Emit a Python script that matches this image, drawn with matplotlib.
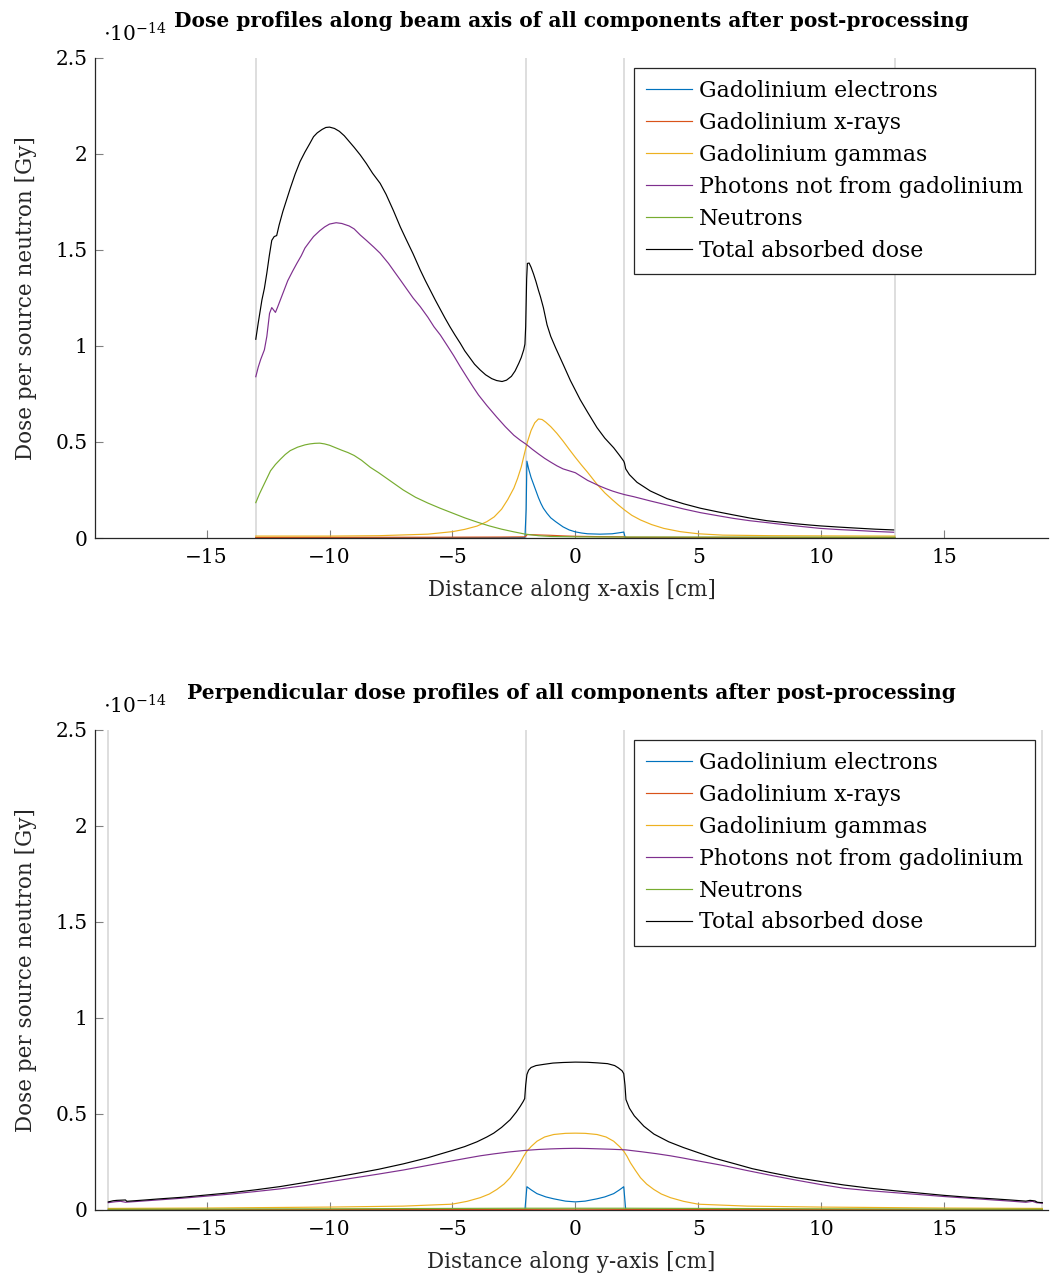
#!/usr/bin/env python3

import matplotlib
matplotlib.use("Agg")
import matplotlib.pyplot as plt

import matplotlib as mpl
mpl.rcParams['font.family'] = 'DejaVu Serif'
mpl.rcParams['mathtext.fontset'] = 'dejavuserif'

# dose values in units of 1e-14 Gy per source neutron

# --- profile along beam axis (x) ---
ELEC_X_TOP = [-13, -2.05, -2.0, -1.97, -1.9, -1.8, -1.7, -1.6, -1.5, -1.4, -1.3, -1.15, -1.0, -0.8, -0.5, -0.25, 0,
              0.25, 0.5, 1.0, 1.5, 1.83, 1.97, 2.03, 13]
ELEC_Y_TOP = [0.001, 0.002, 0.15, 0.40, 0.36, 0.315, 0.28, 0.245, 0.21, 0.18, 0.155, 0.128, 0.105, 0.085, 0.058, 0.042, 0.032,
              0.026, 0.022, 0.02, 0.022, 0.028, 0.031, 0.002, 0.001]

XRAY_X_TOP = [-13, -6, -3, -2.05, -1.95, -1.5, -1.0, -0.5, 0, 1, 2, 2.1, 5, 13]
XRAY_Y_TOP = [0.003, 0.004, 0.005, 0.006, 0.018, 0.016, 0.014, 0.011, 0.009, 0.007, 0.006, 0.004, 0.003, 0.002]

GAMMA_X_TOP = [-13, -10, -8, -6, -5, -4.5, -4, -3.6, -3.3, -3.0, -2.75, -2.5, -2.35, -2.2, -2.05, -1.95, -1.8, -1.65, -1.5,
               -1.35, -1.2, -1.0, -0.75, -0.5, -0.25, 0, 0.25, 0.5, 0.88, 1.2, 1.5, 1.75, 2.0, 2.3, 2.65, 3.1, 3.6, 4.27,
               5, 6, 8, 10, 13]
GAMMA_Y_TOP = [0.01, 0.01, 0.012, 0.02, 0.033, 0.045, 0.062, 0.085, 0.11, 0.15, 0.2, 0.26, 0.31, 0.37, 0.45, 0.5, 0.56, 0.6, 0.62,
               0.617, 0.603, 0.58, 0.545, 0.505, 0.462, 0.42, 0.38, 0.342, 0.28, 0.235, 0.2, 0.172, 0.146, 0.118, 0.094, 0.07, 0.05, 0.033,
               0.022, 0.015, 0.012, 0.011, 0.01]

PHOT_X_TOP = [-13, -12.9, -12.8, -12.65, -12.55, -12.44, -12.35, -12.2, -12.12, -12.0, -11.85, -11.7, -11.5, -11.33, -11.15,
              -11.0, -10.8, -10.65, -10.4, -10.2, -10.0, -9.73, -9.5, -9.2, -9.0, -8.75, -8.5, -8.2, -7.94, -7.6, -7.35,
              -7.12, -6.85, -6.6, -6.31, -6.0, -5.75, -5.49, -5.2, -4.95, -4.68, -4.4, -4.15, -3.94, -3.6, -3.2, -2.85,
              -2.5, -2.25, -2.0, -1.75, -1.5, -1.25, -1.0, -0.75, -0.5, -0.25, 0, 0.25, 0.5, 0.75, 1.0, 1.25, 1.5, 1.75,
              2.0, 2.38, 3.05, 3.73, 4.41, 5.09, 5.8, 6.44, 7.1, 7.8, 8.4, 8.9, 9.5, 9.97, 10.7, 11.5, 12.2, 12.95]
PHOT_Y_TOP = [0.84, 0.89, 0.93, 0.98, 1.05, 1.17, 1.20, 1.175, 1.20, 1.24, 1.29, 1.34, 1.39, 1.43, 1.47,
              1.51, 1.545, 1.57, 1.60, 1.62, 1.635, 1.642, 1.638, 1.625, 1.61, 1.578, 1.55, 1.515, 1.483, 1.43, 1.385,
              1.344, 1.295, 1.25, 1.205, 1.15, 1.10, 1.057, 1.00, 0.95, 0.892, 0.835, 0.785, 0.745, 0.69, 0.63, 0.58,
              0.535, 0.51, 0.488, 0.462, 0.438, 0.415, 0.395, 0.376, 0.36, 0.35, 0.34, 0.32, 0.30, 0.285, 0.27, 0.257, 0.245, 0.235,
              0.226, 0.215, 0.193, 0.172, 0.151, 0.132, 0.116, 0.102, 0.09, 0.08, 0.071, 0.064, 0.056, 0.05, 0.044, 0.039, 0.034, 0.03]

NEUT_X_TOP = [-13, -12.85, -12.7, -12.55, -12.4, -12.2, -12, -11.8, -11.6, -11.3, -11, -10.8, -10.6, -10.4, -10.2, -10.0,
              -9.75, -9.5, -9.25, -9, -8.7, -8.34, -8.0, -7.5, -7.0, -6.5, -6.0, -5.5, -5, -4.5, -4.0, -3.5, -3.0, -2.5,
              -2.03, -1.5, -1, 0, 2, 5, 13]
NEUT_Y_TOP = [0.184, 0.23, 0.27, 0.31, 0.35, 0.383, 0.41, 0.435, 0.455, 0.473, 0.485, 0.49, 0.493, 0.494, 0.49, 0.483,
              0.47, 0.457, 0.445, 0.43, 0.405, 0.368, 0.34, 0.295, 0.25, 0.212, 0.182, 0.155, 0.13, 0.105, 0.083, 0.063, 0.046, 0.032,
              0.02, 0.012, 0.008, 0.006, 0.005, 0.005, 0.004]

TOTAL_X_TOP = [-13, -12.9, -12.75, -12.65, -12.55, -12.45, -12.35, -12.25, -12.15, -12.05, -11.9, -11.75, -11.6, -11.4,
               -11.2, -11.0, -10.8, -10.65, -10.5, -10.3, -10.15, -10.0, -9.8, -9.6, -9.4, -9.2, -9.0, -8.75, -8.5, -8.25,
               -7.94, -7.7, -7.4, -7.12, -6.9, -6.6, -6.31, -6.1, -5.9, -5.7, -5.49, -5.3, -5.1, -4.9, -4.68, -4.5, -4.3,
               -4.1, -3.87, -3.65, -3.4, -3.2, -2.98, -2.8, -2.6, -2.45, -2.3, -2.2, -2.1, -2.05, -2.02, -1.98, -1.95,
               -1.88, -1.8, -1.7, -1.6, -1.5, -1.42, -1.3, -1.15, -1.0, -0.8, -0.48, -0.2, 0.2, 0.5, 0.88, 1.2, 1.56, 1.8,
               1.97, 2.0, 2.05, 2.2, 2.51, 3.05, 3.73, 4.41, 5.09, 5.8, 6.44, 7.1, 7.8, 8.4, 8.9, 9.5, 9.97, 10.7, 11.5,
               12.2, 12.95]
TOTAL_Y_TOP = [1.035, 1.12, 1.24, 1.30, 1.38, 1.47, 1.55, 1.57, 1.575, 1.63, 1.70, 1.76, 1.82, 1.895,
               1.96, 2.01, 2.055, 2.09, 2.11, 2.128, 2.138, 2.14, 2.133, 2.118, 2.095, 2.065, 2.035, 1.995, 1.95, 1.90,
               1.847, 1.79, 1.705, 1.62, 1.56, 1.48, 1.396, 1.34, 1.29, 1.24, 1.19, 1.145, 1.10, 1.058, 1.014, 0.975, 0.94,
               0.905, 0.875, 0.85, 0.83, 0.82, 0.815, 0.822, 0.842, 0.87, 0.91, 0.94, 0.98, 1.01, 1.1, 1.35, 1.43,
               1.432, 1.41, 1.375, 1.335, 1.29, 1.257, 1.20, 1.11, 1.05, 0.99, 0.90, 0.82, 0.72, 0.655, 0.575, 0.52, 0.47, 0.43,
               0.40, 0.39, 0.36, 0.33, 0.29, 0.245, 0.205, 0.178, 0.155, 0.136, 0.12, 0.104, 0.09, 0.082, 0.075, 0.068, 0.063, 0.057, 0.051,
               0.046, 0.042]

# --- perpendicular profile (y) ---
ELEC_X_BOT = [-19, -2.05, -1.97, -1.8, -1.56, -1.2, -0.88, -0.4, 0, 0.4, 0.88, 1.2, 1.56, 1.8, 1.97, 2.05, 19]
ELEC_Y_BOT = [0.0, 0.0, 0.121, 0.105, 0.085, 0.068, 0.058, 0.046, 0.042, 0.046, 0.058, 0.068, 0.085, 0.105, 0.121, 0.0, 0.0]

XRAY_X_BOT = [-19, -2, 0, 2, 19]
XRAY_Y_BOT = [0.001, 0.003, 0.004, 0.003, 0.001]

GAMMA_X_BOT = [-19, -15, -10, -7, -5.02, -4.4, -3.87, -3.5, -3.19, -2.9, -2.65, -2.45, -2.24, -2.1, -1.97, -1.8, -1.56,
               -1.25, -0.88, -0.4, 0, 0.4, 0.88, 1.25, 1.56, 1.8, 1.97, 2.1, 2.24, 2.45, 2.65, 2.9, 3.19, 3.5, 3.87, 4.4,
               5.0, 7, 10, 15, 19]
GAMMA_Y_BOT = [0.008, 0.01, 0.015, 0.02, 0.03, 0.045, 0.064, 0.083, 0.107, 0.135, 0.168, 0.205, 0.246, 0.28, 0.306, 0.33, 0.358,
               0.38, 0.393, 0.399, 0.40, 0.399, 0.393, 0.38, 0.358, 0.33, 0.306, 0.28, 0.246, 0.205, 0.168, 0.135, 0.107, 0.083, 0.064, 0.045,
               0.03, 0.02, 0.015, 0.01, 0.008]

PHOT_X_BOT = [-19, -18.7, -18.5, -18.3, -17, -16, -15, -14, -13, -12, -11, -10, -9, -8, -7, -6, -5, -4.4, -3.87, -3.32,
              -2.7, -2.06, -1.5, -1, -0.5, 0, 0.5, 1, 1.5, 2.05, 2.7, 3.3, 3.87, 4.4, 5.01, 6, 7, 7.97, 9, 10, 10.93, 12,
              13, 14, 15, 16, 17, 17.7, 18.33, 18.6, 18.75, 19]
PHOT_Y_BOT = [0.038, 0.043, 0.045, 0.04, 0.052, 0.061, 0.072, 0.083, 0.096, 0.11, 0.127, 0.147, 0.167, 0.187, 0.208, 0.232, 0.256, 0.27, 0.282, 0.292,
              0.302, 0.31, 0.315, 0.318, 0.32, 0.321, 0.32, 0.318, 0.316, 0.313, 0.303, 0.293, 0.282, 0.27, 0.255, 0.232, 0.205, 0.18, 0.155, 0.132, 0.113, 0.1,
              0.09, 0.08, 0.07, 0.061, 0.052, 0.046, 0.04, 0.045, 0.038, 0.035]

NEUT_X_BOT = [-19, -10, -5, -2, 0, 2, 5, 10, 19]
NEUT_Y_BOT = [0.004, 0.006, 0.008, 0.009, 0.009, 0.009, 0.008, 0.006, 0.004]

TOTAL_X_BOT = [-19, -18.8, -18.65, -18.3, -18.25, -17.5, -17, -16, -15, -14, -13, -12, -11, -10, -9, -8, -7, -6, -5, -4.5,
               -4, -3.6, -3.32, -3.0, -2.65, -2.4, -2.24, -2.12, -2.06, -2.02, -1.97, -1.9, -1.8, -1.6, -1.3, -0.91, -0.5,
               0, 0.5, 0.9, 1.31, 1.6, 1.75, 1.9, 1.97, 2.02, 2.06, 2.2, 2.4, 2.79, 3.2, 3.8, 4.4, 5.01, 5.7, 6.5, 7.2,
               7.97, 9, 10, 10.93, 12, 13, 14, 15, 16, 17, 17.7, 18.33, 18.5, 18.7, 18.8, 19]
TOTAL_Y_BOT = [0.042, 0.048, 0.05, 0.052, 0.045, 0.052, 0.057, 0.066, 0.078, 0.09, 0.105, 0.122, 0.143, 0.165, 0.188, 0.212, 0.24, 0.272, 0.31, 0.33,
               0.355, 0.38, 0.40, 0.43, 0.47, 0.51, 0.54, 0.565, 0.58, 0.65, 0.705, 0.728, 0.742, 0.752, 0.758, 0.765, 0.768,
               0.77, 0.769, 0.766, 0.762, 0.752, 0.74, 0.725, 0.71, 0.65, 0.575, 0.53, 0.49, 0.436, 0.395, 0.355, 0.325, 0.298, 0.268, 0.24, 0.215,
               0.194, 0.168, 0.148, 0.13, 0.113, 0.1, 0.088, 0.076, 0.066, 0.058, 0.052, 0.046, 0.05, 0.047, 0.04, 0.038]

LABELS = ["Gadolinium electrons", "Gadolinium x-rays", "Gadolinium gammas",
          "Photons not from gadolinium", "Neutrons", "Total absorbed dose"]
COLORS = ['#0072BD', '#D95319', '#EDB120', '#7E2F8E', '#77AC30', 'black']

XTICKS = [-15, -10, -5, 0, 5, 10, 15]
YTICKS = [0, 0.5, 1, 1.5, 2, 2.5]
YTICKLABELS = ['0', '0.5', '1', '1.5', '2', '2.5']


def draw_panel(ax, series, guides, title, xlabel):
    for xg in guides:
        ax.axvline(xg, color='#d4d4d4', lw=1.1, zorder=0)
    for (xs, ys), lab, col in zip(series, LABELS, COLORS):
        ax.plot(xs, ys, color=col, lw=0.85, label=lab)

    ax.set_xlim(-19.54, 19.23)
    ax.set_ylim(0, 2.5)
    ax.set_xticks(XTICKS)
    ax.set_xticklabels([str(t).replace('-', '\u2212') for t in XTICKS])
    ax.set_yticks(YTICKS)
    ax.set_yticklabels(YTICKLABELS)
    ax.tick_params(direction='in', length=6, width=0.8, color='#808080', labelsize=14.5, pad=5.5)
    ax.tick_params(axis='x', pad=7)
    ax.spines['top'].set_visible(False)
    ax.spines['right'].set_visible(False)
    for s in ('left', 'bottom'):
        ax.spines[s].set_color('#262626')
        ax.spines[s].set_linewidth(0.9)

    ax.set_xlabel(xlabel, fontsize=15.5, color='#262626', labelpad=9)
    ax.set_ylabel("Dose per source neutron [Gy]", fontsize=15.5, color='#262626', labelpad=13)
    ax.set_title(title, fontsize=14.5, fontweight='bold', pad=22)
    ax.text(0.008, 1.05, r'$\cdot 10^{-14}$', transform=ax.transAxes, fontsize=14.5, va='center', ha='left')

    leg = ax.legend(loc='upper right', bbox_to_anchor=(0.9864, 0.979), borderaxespad=0, fancybox=False,
                    fontsize=15.8, handlelength=2.1, handletextpad=0.32, labelspacing=0.45, borderpad=0.55,
                    framealpha=1)
    leg.get_frame().set_edgecolor('#262626')
    leg.get_frame().set_linewidth(0.9)


def main():
    fig = plt.figure(figsize=(10.5, 12.77), dpi=100)
    ax_top = fig.add_axes([0.0905, 0.5787, 0.9076, 0.3759])
    ax_bot = fig.add_axes([0.0905, 0.0525, 0.9076, 0.3759])

    top_series = [(ELEC_X_TOP, ELEC_Y_TOP), (XRAY_X_TOP, XRAY_Y_TOP), (GAMMA_X_TOP, GAMMA_Y_TOP),
                  (PHOT_X_TOP, PHOT_Y_TOP), (NEUT_X_TOP, NEUT_Y_TOP), (TOTAL_X_TOP, TOTAL_Y_TOP)]
    bot_series = [(ELEC_X_BOT, ELEC_Y_BOT), (XRAY_X_BOT, XRAY_Y_BOT), (GAMMA_X_BOT, GAMMA_Y_BOT),
                  (PHOT_X_BOT, PHOT_Y_BOT), (NEUT_X_BOT, NEUT_Y_BOT), (TOTAL_X_BOT, TOTAL_Y_BOT)]

    draw_panel(ax_top, top_series, [-13, -2, 2, 13],
               "Dose profiles along beam axis of all components after post-processing",
               "Distance along x-axis [cm]")
    draw_panel(ax_bot, bot_series, [-19, -2, 2, 19],
               "Perpendicular dose profiles of all components after post-processing",
               "Distance along y-axis [cm]")

    fig.savefig("out.png", dpi=100)
    plt.close(fig)


if __name__ == "__main__":
    main()
